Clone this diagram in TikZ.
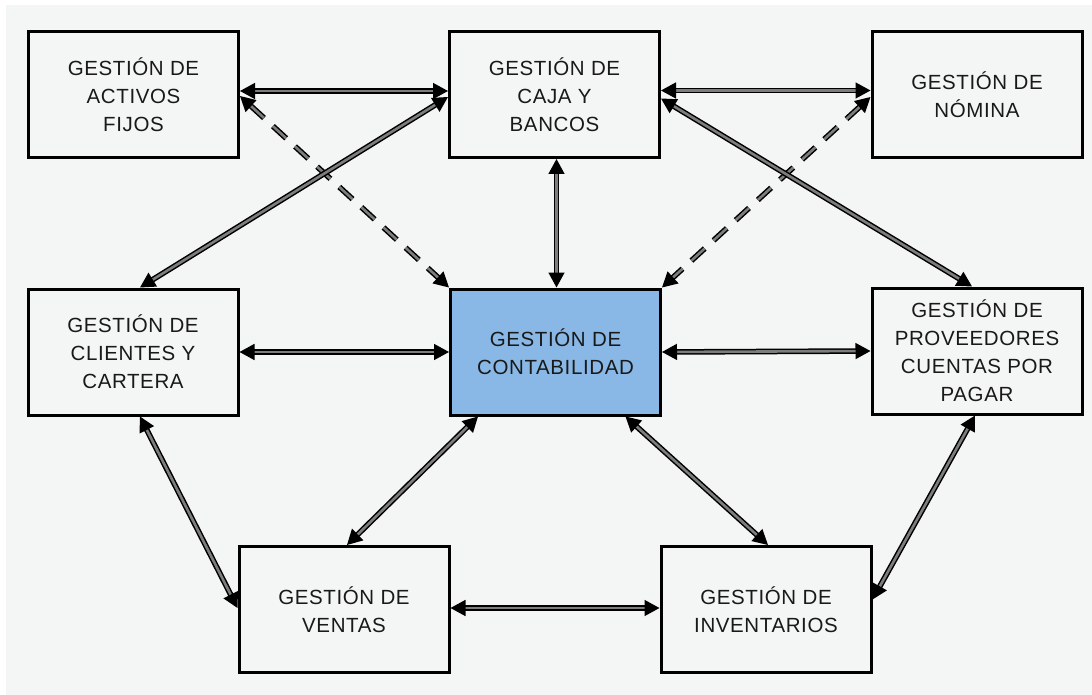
\documentclass[tikz,border=0pt]{standalone}
\usepackage{fontspec}
\setmainfont{Liberation Sans}[LetterSpace=3]
\usetikzlibrary{arrows.meta}

\definecolor{panel}{RGB}{244,245,245}
\definecolor{accfill}{RGB}{137,184,230}
\definecolor{linkcore}{RGB}{125,125,125}

\tikzset{
  module/.style={draw=black, line width=3pt, fill=panel,
    minimum width=210pt, minimum height=126pt, align=center,
    font=\fontsize{20.5}{28}\selectfont, text=black!90},
  link/.style={draw=black, line width=1.5pt, double=linkcore,
    double distance=2.6pt,
    {Triangle[length=15pt,width=16pt]}-{Triangle[length=15pt,width=16pt]}},
  weak/.style={link, dash pattern=on 18pt off 12pt},
}

\begin{document}
\begin{tikzpicture}[x=1pt, y=-1pt]
  \useasboundingbox (0,0) rectangle (1092,695);
  \fill[panel] (6,5) rectangle (1092,695);

  % modules
  \node[module] (act)  at (133.5, 94.5) {GESTIÓN DE\\ACTIVOS\\FIJOS};
  \node[module] (caja) at (554.5, 94.5) {GESTIÓN DE\\CAJA Y\\BANCOS};
  \node[module] (nom)  at (977, 94.5)   {GESTIÓN DE\\NÓMINA};
  \node[module] (cli)  at (133, 352)    {GESTIÓN DE\\CLIENTES Y\\CARTERA};
  \node[module, fill=accfill] (cont) at (555.5, 352) {GESTIÓN DE\\CONTABILIDAD};
  \node[module] (prov) at (977, 351)    {GESTIÓN DE\\PROVEEDORES\\CUENTAS POR\\PAGAR};
  \node[module] (ven)  at (344, 609.5)  {GESTIÓN DE\\VENTAS};
  \node[module] (inv)  at (766, 609.5)  {GESTIÓN DE\\INVENTARIOS};

  % top row
  \draw[link] ([yshift=3.5pt]act.east) -- ([yshift=3.5pt]caja.west);
  \draw[link] ([yshift=4pt]caja.east) -- ([yshift=4pt]nom.west);

  % dashed links into accounting
  \draw[weak] ([yshift=-1.5pt]act.east) -- (cont.north west);
  \draw[weak] ([yshift=-2.5pt]nom.west) -- (cont.north east);

  % cash and banks
  \draw[link] ([yshift=-2.5pt]caja.west) -- ([xshift=7pt]cli.north);
  \draw[link] ([xshift=2pt]caja.south) -- ([xshift=1pt]cont.north);
  \draw[link] ([yshift=-4pt]caja.east) -- ([xshift=-5pt]prov.north);

  % middle row
  \draw[link] (cli.east) -- (cont.west);
  \draw[link] (cont.east) -- (prov.west);

  % lower links
  \draw[link] ([xshift=7pt]cli.south) -- ([yshift=1.5pt]ven.west);
  \draw[link] ([xshift=-77.5pt]cont.south) -- ([xshift=3pt]ven.north);
  \draw[link] ([xshift=70pt]cont.south) -- ([xshift=2pt]inv.north);
  \draw[link] ([yshift=1.5pt]ven.east) -- ([yshift=1.5pt]inv.west);
  \draw[link] ([xshift=-2pt]prov.south) -- ([yshift=10pt]inv.east);
\end{tikzpicture}
\end{document}
